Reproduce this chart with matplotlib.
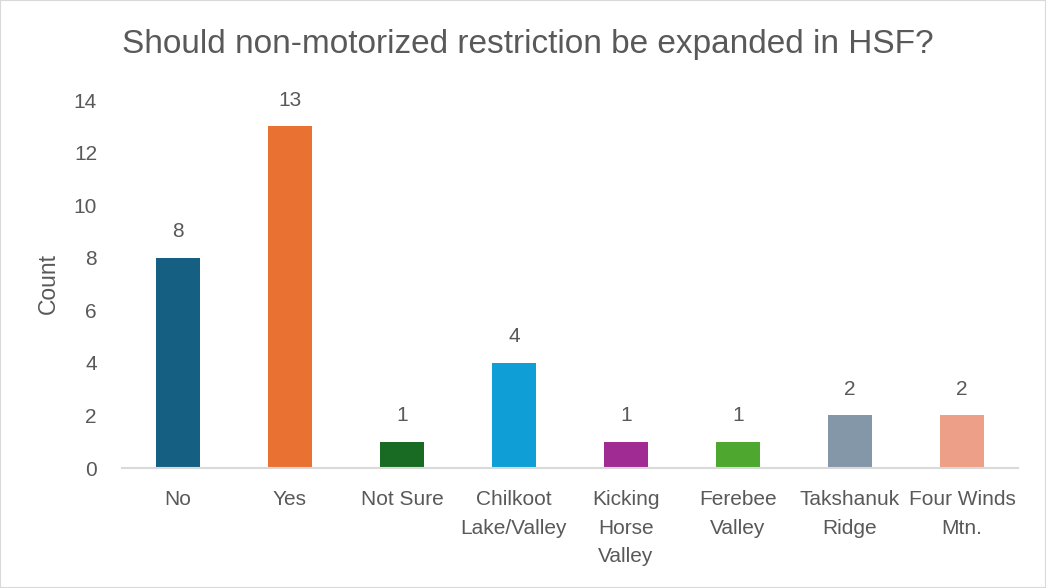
import matplotlib
matplotlib.use("Agg")
import matplotlib.pyplot as plt
from matplotlib.patches import Rectangle

# datos del grafico
categorias = ["No", "Yes", "Not Sure", "Chilkoot\nLake/Valley", "Kicking\nHorse\nValley",
              "Ferebee\nValley", "Takshanuk\nRidge", "Four Winds\nMtn."]
conteos = [8, 13, 1, 4, 1, 1, 2, 2]
colores = ["#156082", "#E97132", "#196B24", "#0F9ED5", "#A02B93",
           "#4EA72E", "#8497A8", "#EE9F88"]
ticks_y = [0, 2, 4, 6, 8, 10, 12, 14]

gris = "#595959"
plt.rcParams['font.family'] = ['Liberation Sans', 'DejaVu Sans']

fig = plt.figure(figsize=(10.46, 5.88), dpi=100)
ax = fig.add_axes([122 / 1046, 1 - 468 / 588, 896 / 1046, 368 / 588])

x = list(range(len(categorias)))
barras = ax.bar(x, conteos, width=0.4, color=colores)
for b, v in zip(barras, conteos):
    ax.annotate(str(v), (b.get_x() + b.get_width() / 2, v), xytext=(0, 12),
                textcoords="offset points", ha="center", va="bottom",
                fontsize=15, color=gris)

ax.set_xlim(-0.5, len(categorias) - 0.5)
ax.set_ylim(0, 14)
ax.set_yticks(ticks_y)
ax.set_xticks(x)
ax.set_xticklabels(categorias, fontsize=15, color=gris, linespacing=1.62)
ax.tick_params(axis="y", labelsize=15, labelcolor=gris, length=0, pad=18)
ax.tick_params(axis="x", length=0, pad=16)
for lado in ["top", "right", "left"]:
    ax.spines[lado].set_visible(False)
ax.spines["bottom"].set_color("#D9D9D9")
ax.spines["bottom"].set_linewidth(1.5)
ax.set_ylabel("Count", fontsize=16.5, color=gris, labelpad=10)

fig.suptitle("Should non-motorized restriction be expanded in HSF?",
             x=0.505, y=1 - 45 / 588, va="center", fontsize=24, color=gris)

# borde del grafico
fig.patches.append(Rectangle((0, 0), 1, 1, transform=fig.transFigure, fill=False,
                             edgecolor="#D9D9D9", linewidth=1.5))

fig.savefig("out.png", dpi=100)
